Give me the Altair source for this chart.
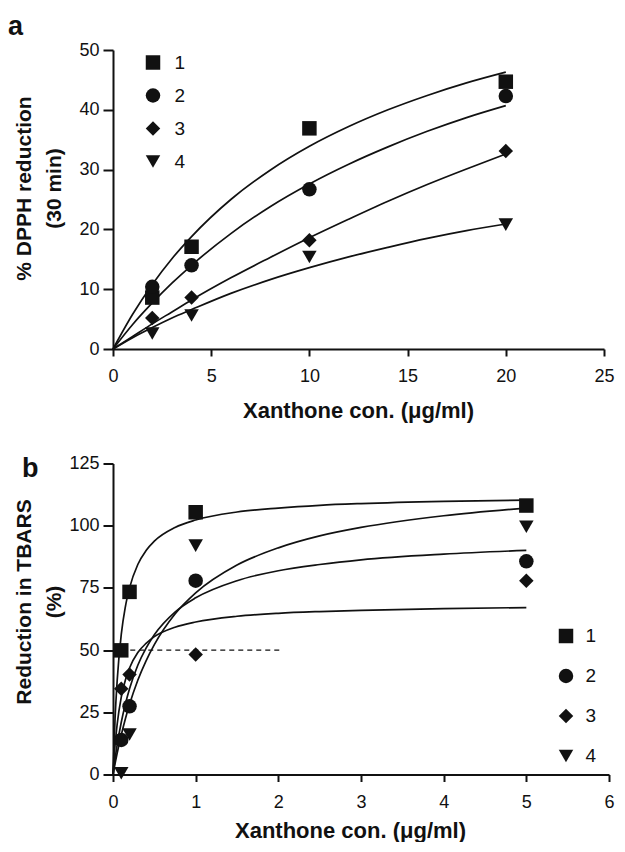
import altair as alt
import pandas as pd

# ---------------- Panel a data (DPPH) ----------------
a_x = [2, 4, 10, 20]
a_s1 = [8.6, 17.1, 36.9, 44.7]
a_s2 = [10.4, 14.0, 26.7, 42.3]
a_s3 = [5.2, 8.6, 18.2, 33.1]
a_s4 = [2.6, 5.6, 15.4, 20.8]

a_curve_x = [0, 1, 2, 3, 4, 6, 8, 10, 12, 14, 16, 18, 20]
a_curve1 = [0, 5.8, 10.8, 15.1, 18.8, 25.0, 29.9, 33.9, 37.2, 40.0, 42.4, 44.5, 46.3]
a_curve2 = [0, 4.1, 7.7, 11.0, 14.0, 19.3, 23.8, 27.6, 30.9, 33.8, 36.4, 38.7, 40.7]
a_curve3 = [0, 2.1, 4.2, 6.2, 8.2, 11.9, 15.3, 18.6, 21.7, 24.7, 27.5, 30.1, 32.6]
a_curve4 = [0, 1.9, 3.6, 5.2, 6.6, 9.3, 11.6, 13.6, 15.4, 17.0, 18.5, 19.8, 20.9]

# ---------------- Panel b data (TBARS) ----------------
b_x = [0.1, 0.2, 1, 5]
b_s1 = [49.9, 73.4, 105.4, 108.1]
b_s2 = [13.9, 27.4, 77.9, 85.7]
b_s3 = [34.5, 40.2, 48.2, 77.9]
b_s4 = [0.5, 16.1, 92.0, 99.6]

b_curve_x = [0, 0.025, 0.05, 0.1, 0.15, 0.2, 0.3, 0.4, 0.5, 0.75, 1, 1.5, 2, 2.5, 3, 4, 5]
b_curve1 = [0, 22.5, 37.5, 56.3, 67.5, 75.0, 84.4, 90.0, 93.8, 99.3, 102.3, 105.5, 107.1, 108.2, 108.9, 109.8, 110.3]
b_curve2 = [0, 4.4, 8.5, 15.9, 22.4, 28.2, 37.9, 45.7, 52.2, 64.5, 73.0, 84.2, 91.1, 95.9, 99.3, 104.0, 107.1]
b_curve3 = [0, 6.3, 11.8, 21.0, 28.4, 34.5, 43.9, 50.8, 56.2, 65.3, 71.0, 77.9, 81.9, 84.4, 86.3, 88.6, 90.1]
b_curve4 = [0, 11.8, 20.1, 31.1, 38.0, 42.8, 49.0, 52.7, 55.4, 59.2, 61.3, 63.6, 64.8, 65.5, 66.0, 66.7, 67.1]

b_dash_x = [0.1, 2.05]
b_dash_y = [50, 50]

series_names = ["1", "2", "3", "4"]
shapes = ["square", "circle", "diamond", "triangle-down"]
sizes = [210, 210, 320, 200]

FONT = "Liberation Sans"
INK = "#111111"


def points_df(xs, ys_list):
    rows = []
    for name, ys in zip(series_names, ys_list):
        for xv, yv in zip(xs, ys):
            rows.append({"x": xv, "y": yv, "series": name})
    return pd.DataFrame(rows)


def curves_df(xs, ys_list):
    rows = []
    for i, ys in enumerate(ys_list):
        for xv, yv in zip(xs, ys):
            rows.append({"x": xv, "y": yv, "curve": f"c{i+1}"})
    return pd.DataFrame(rows)


a_pts = points_df(a_x, [a_s1, a_s2, a_s3, a_s4])
a_cur = curves_df(a_curve_x, [a_curve1, a_curve2, a_curve3, a_curve4])
b_pts = points_df(b_x, [b_s1, b_s2, b_s3, b_s4])
b_cur = curves_df(b_curve_x, [b_curve1, b_curve2, b_curve3, b_curve4])
b_dash = pd.DataFrame({"x": b_dash_x, "y": b_dash_y})


def make_panel(pts, cur, xdom, xvals, ydom, yvals, ytitle, xtitle_x, xtitle_pad,
               legx, legy, legrow, leglab, letter, letter_dx, letter_dy, w, h, extra=None):
    xenc = alt.X("x:Q", scale=alt.Scale(domain=xdom, nice=False),
                 axis=alt.Axis(values=xvals, format="d", title="Xanthone con. (\u03bcg/ml)",
                               titleX=xtitle_x, titlePadding=xtitle_pad, titleFontSize=22,
                               tickSize=7, labelPadding=11.5, labelFlush=False))
    yenc = alt.Y("y:Q", scale=alt.Scale(domain=ydom, nice=False),
                 axis=alt.Axis(values=yvals, format="d", title=ytitle, titleY=138,
                               tickSize=10, labelPadding=4, minExtent=45, maxExtent=45,
                               titlePadding=4, titleLineHeight=30, titleFontSize=21))
    lines = alt.Chart(cur).mark_line(color=INK, strokeWidth=1.7, interpolate="monotone").encode(
        x=xenc, y=yenc, detail="curve:N")
    pts_l = alt.Chart(pts).mark_point(filled=True, opacity=1, color=INK, strokeWidth=0).encode(
        x="x:Q", y="y:Q",
        shape=alt.Shape("series:N", scale=alt.Scale(domain=series_names, range=shapes),
                        legend=alt.Legend(title=None, orient="none", legendX=legx, legendY=legy,
                                          rowPadding=legrow, labelOffset=leglab,
                                          labelFontSize=19, labelFont=FONT, labelColor=INK,
                                          symbolFillColor=INK, symbolStrokeColor=INK,
                                          symbolStrokeWidth=0)),
        size=alt.Size("series:N", scale=alt.Scale(domain=series_names, range=sizes)),
    )
    layers = [lines]
    if extra is not None:
        layers.append(extra)
    layers.append(pts_l)
    return alt.layer(*layers).properties(
        width=w,
        height=h,
        title=alt.TitleParams(letter, anchor="start", fontSize=27, fontWeight="bold",
                              font=FONT, color=INK, dx=letter_dx, dy=letter_dy),
    )


dash = alt.Chart(b_dash).mark_line(color=INK, strokeWidth=1.3, strokeDash=[5, 4]).encode(
    x="x:Q", y="y:Q")

panel_a = make_panel(a_pts, a_cur, [0, 25], [0, 5, 10, 15, 20, 25], [0, 50],
                     [0, 10, 20, 30, 40, 50], ["% DPPH reduction", "(30 min)"],
                     245, 14.5, 30.5, 3, 13, 12, "\u2009a", -5, 4, 491, 299)
panel_b = make_panel(b_pts, b_cur, [0, 6], [0, 1, 2, 3, 4, 5, 6], [0, 125],
                     [0, 25, 50, 75, 100, 125],
                     ["Reduction in TBARS", "(%)" + "\u2007" * 11],
                     237, 9.5, 443.5, 163, 20, 10, "\u2009b", 9, 32, 496, 311, extra=dash)

chart = alt.vconcat(panel_a, panel_b, spacing=33.5).resolve_scale(
    shape="independent", size="independent").resolve_legend(
    shape="independent", size="independent").configure(
    font=FONT, padding={"left": 0, "top": 5, "right": 0, "bottom": 0}
).configure_view(stroke=None).configure_axis(
    grid=False, domainColor=INK, domainWidth=2, tickColor=INK, tickWidth=2,
    labelColor=INK, labelFont=FONT, labelFontSize=18, titleColor=INK, titleFont=FONT,
    titleFontSize=21, titleFontWeight="bold"
)

chart.save("out.html", embed_options={"renderer": "svg", "actions": False})
